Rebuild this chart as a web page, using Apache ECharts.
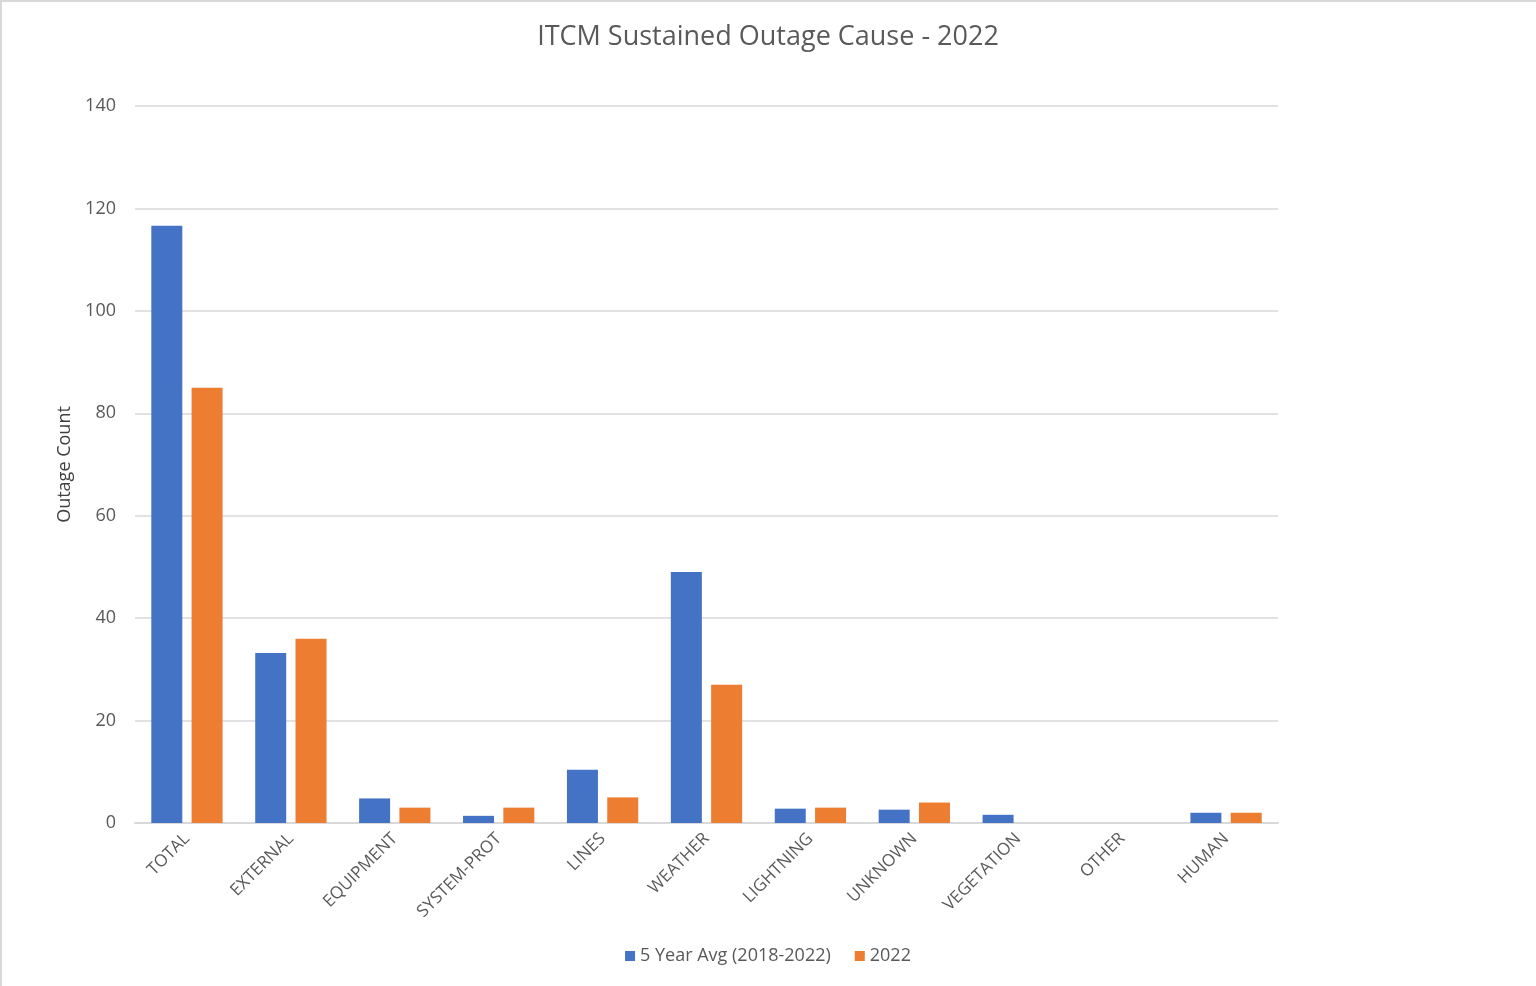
<!DOCTYPE html>
<html>
<head>
<meta charset="utf-8">
<title>ITCM Sustained Outage Cause - 2022</title>
<script src="https://cdn.jsdelivr.net/npm/echarts@6/dist/echarts.min.js"></script>
<style>
  html, body { margin: 0; padding: 0; background: #ffffff; }
  #chart { position: absolute; left: 0; top: 0; width: 1536px; height: 986px; }
  #frame {
    position: absolute; left: 0; top: 0; width: 1536px; height: 986px;
    box-sizing: border-box; pointer-events: none;
    border-left: 2px solid #d9d9d9;
    border-top: 2px solid #d9d9d9;
  }
</style>
</head>
<body>
<div id="chart"></div>
<div id="frame"></div>
<script>
// Outage causes and counts
const categories = ['TOTAL', 'EXTERNAL', 'EQUIPMENT', 'SYSTEM-PROT', 'LINES', 'WEATHER',
                    'LIGHTNING', 'UNKNOWN', 'VEGETATION', 'OTHER', 'HUMAN'];
const avgName = '5 Year Avg (2018-2022)';
const yearName = '2022';
const avgValues  = [116.6, 33.2, 4.8, 1.4, 10.4, 49.0, 2.8, 2.6, 1.6, 0, 2.0];
const yearValues = [85, 36, 3, 3, 5, 27, 3, 4, 0, 0, 2];
const yTicks = [0, 20, 40, 60, 80, 100, 120, 140];

const textColor = '#595959';
const gridColor = '#d9d9d9';
const font = "'Open Sans', 'Noto Sans', sans-serif";

const chart = echarts.init(document.getElementById('chart'), null, { renderer: 'canvas' });

chart.setOption({
  backgroundColor: '#ffffff',
  animation: false,
  textStyle: { fontFamily: font, color: textColor },
  title: {
    text: 'ITCM Sustained Outage Cause - 2022',
    left: 'center',
    top: 19,
    textStyle: { fontFamily: font, fontSize: 27, fontWeight: 'normal', color: textColor }
  },
  legend: {
    bottom: 16,
    left: 'center',
    itemWidth: 10,
    itemHeight: 10,
    itemGap: 24,
    icon: 'rect',
    textStyle: { fontFamily: font, fontSize: 18, color: textColor },
    data: [avgName, yearName]
  },
  grid: {
    left: 135,
    right: 258,
    top: 106,
    bottom: 163,
    containLabel: false
  },
  xAxis: {
    type: 'category',
    data: categories,
    axisLine: { show: true, lineStyle: { color: gridColor, width: 2 } },
    axisTick: { show: false },
    axisLabel: {
      rotate: 45,
      margin: 13,
      interval: 0,
      fontFamily: font,
      fontSize: 17,
      color: textColor
    }
  },
  yAxis: {
    type: 'value',
    min: yTicks[0],
    max: yTicks[yTicks.length - 1],
    interval: 20,
    name: 'Outage Count',
    nameLocation: 'middle',
    nameGap: 60,
    nameRotate: 90,
    nameTextStyle: { fontFamily: font, fontSize: 18, color: '#404040' },
    axisLine: { show: false },
    axisTick: { show: false },
    axisLabel: {
      margin: 19,
      fontFamily: font,
      fontSize: 18,
      color: textColor
    },
    splitLine: { show: true, lineStyle: { color: gridColor, width: 1.5 } }
  },
  series: [
    {
      name: avgName,
      type: 'bar',
      data: avgValues,
      barWidth: 31,
      barGap: '30%',
      itemStyle: { color: '#4472c4' }
    },
    {
      name: yearName,
      type: 'bar',
      data: yearValues,
      barWidth: 31,
      barGap: '30%',
      itemStyle: { color: '#ed7d31' }
    }
  ]
});
</script>
</body>
</html>
